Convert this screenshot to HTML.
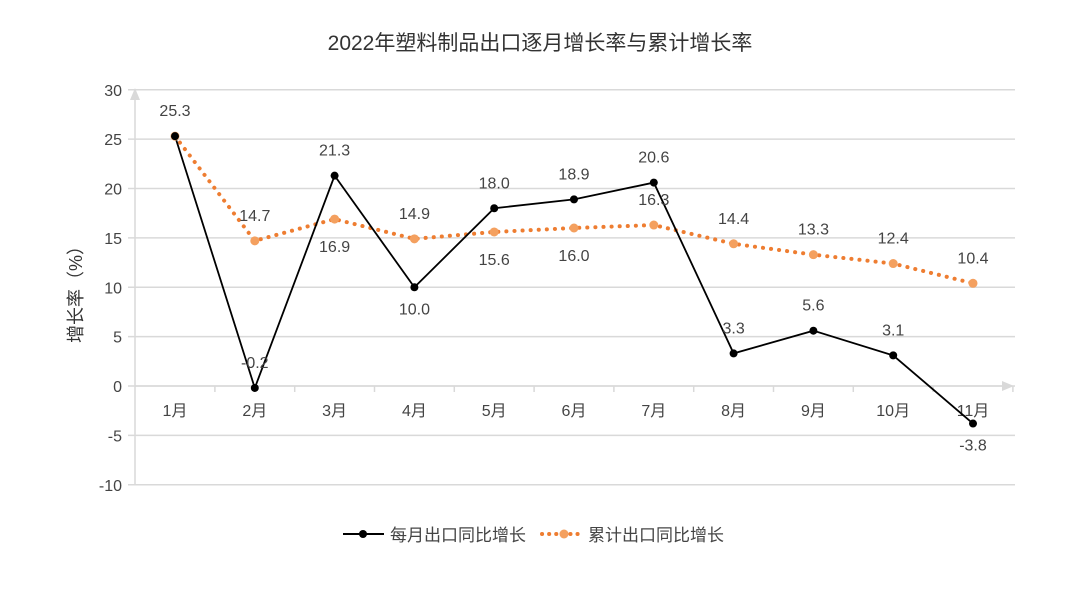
<!DOCTYPE html>
<html><head><meta charset="utf-8"><style>
body{margin:0;background:#fff;}
svg text{font-family:"Liberation Sans","Noto Sans CJK SC",sans-serif;}
</style></head><body>
<svg id="chart" width="1080" height="587" xmlns="http://www.w3.org/2000/svg">
<text x="540" y="50" text-anchor="middle" font-size="21" fill="#333">2022年塑料制品出口逐月增长率与累计增长率</text>
<text transform="translate(82,290) rotate(-90)" text-anchor="middle" font-size="18" fill="#333">增长率（%）</text>
<g id="grid"></g><g id="axes"></g><g id="series"></g><g id="labels"></g>
<g>
<g>
<line x1="343" y1="534" x2="384" y2="534" stroke="#000" stroke-width="2"/><circle cx="363" cy="534" r="4" fill="#000"/>
<text x="390" y="541" font-size="17" fill="#444">每月出口同比增长</text></g>
<g>
<line x1="542" y1="534" x2="580" y2="534" stroke="#ee7d31" stroke-width="4" stroke-dasharray="0.1 7" stroke-linecap="round"/><circle cx="564" cy="534" r="4.5" fill="#f4a05f"/>
<text x="588" y="541" font-size="17" fill="#444">累计出口同比增长</text></g>
</g>
</svg>
<script>
const categories=["1月","2月","3月","4月","5月","6月","7月","8月","9月","10月","11月"];
const monthly=[25.3,-0.2,21.3,10.0,18.0,18.9,20.6,3.3,5.6,3.1,-3.8];
const cumulative=[25.3,14.7,16.9,14.9,15.6,16.0,16.3,14.4,13.3,12.4,10.4];
const monthlyLabelPos=["none","above","above","below","above","above","above","above","above","above","below"];
const cumulativeLabelPos=["above","above","below","above","below","below","above","above","above","above","above"];
const yTicks=[30,25,20,15,10,5,0,-5,-10];
const NS="http://www.w3.org/2000/svg";
const y=v=>386-v*9.875;
const x=i=>175+i*79.8;
function mk(tag,attrs,parent,txt){const e=document.createElementNS(NS,tag);for(const k in attrs)e.setAttribute(k,attrs[k]);if(txt!==undefined)e.textContent=txt;document.getElementById(parent).appendChild(e);return e;}
yTicks.forEach(t=>{
 const g=mk('line',{x1:128,x2:1015,y1:y(t),y2:y(t),stroke:'#d9d9d9','stroke-width':1.5},'grid');
 
 
 const l=mk('text',{x:122,y:y(t)+6,'text-anchor':'end','font-size':16,fill:'#444'},'grid',String(t));
 
 
});
const ya=mk('line',{x1:135,x2:135,y1:97,y2:485,stroke:'#d9d9d9','stroke-width':1.5},'axes');


mk('path',{d:'M130 100 L135 88 L140 100 Z',fill:'#d9d9d9'},'axes');
const xa=mk('line',{x1:135,x2:1005,y1:y(0),y2:y(0),stroke:'#d9d9d9','stroke-width':1.5},'axes');


mk('path',{d:`M1002 ${y(0)-5} L1014 ${y(0)} L1002 ${y(0)+5} Z`,fill:'#d9d9d9'},'axes');
categories.forEach((c,i)=>{
 mk('line',{x1:x(i)+39.9,x2:x(i)+39.9,y1:y(0),y2:y(0)+6,stroke:'#d9d9d9','stroke-width':1.5},'axes');
 const t=mk('text',{x:x(i),y:y(0)+30,'text-anchor':'middle','font-size':16,fill:'#444'},'axes',c);
 
 
});
const cp=mk('polyline',{points:cumulative.map((v,i)=>x(i)+','+y(v)).join(' '),fill:'none',stroke:'#ee7d31','stroke-width':4,'stroke-dasharray':'0.1 8','stroke-linecap':'round'},'series');


const mp=mk('polyline',{points:monthly.map((v,i)=>x(i)+','+y(v)).join(' '),fill:'none',stroke:'#000','stroke-width':1.8},'series');


cumulative.forEach((v,i)=>{
 const p=mk('circle',{cx:x(i),cy:y(v),r:4.5,fill:'#f4a05f'},'series');
 
 
 const pos=cumulativeLabelPos[i];
 const t=mk('text',{x:x(i),y:y(v)+(pos==='above'?-20:33),'text-anchor':'middle','font-size':16,fill:'#444'},'labels',v.toFixed(1));
 
 
});
monthly.forEach((v,i)=>{
 const p=mk('circle',{cx:x(i),cy:y(v),r:4,fill:'#000'},'series');
 
 
 const pos=monthlyLabelPos[i];
 if(pos==='none')return;
 const t=mk('text',{x:x(i),y:y(v)+(pos==='above'?-20:27),'text-anchor':'middle','font-size':16,fill:'#444'},'labels',v.toFixed(1));
 
 
});
</script>
</body></html>
